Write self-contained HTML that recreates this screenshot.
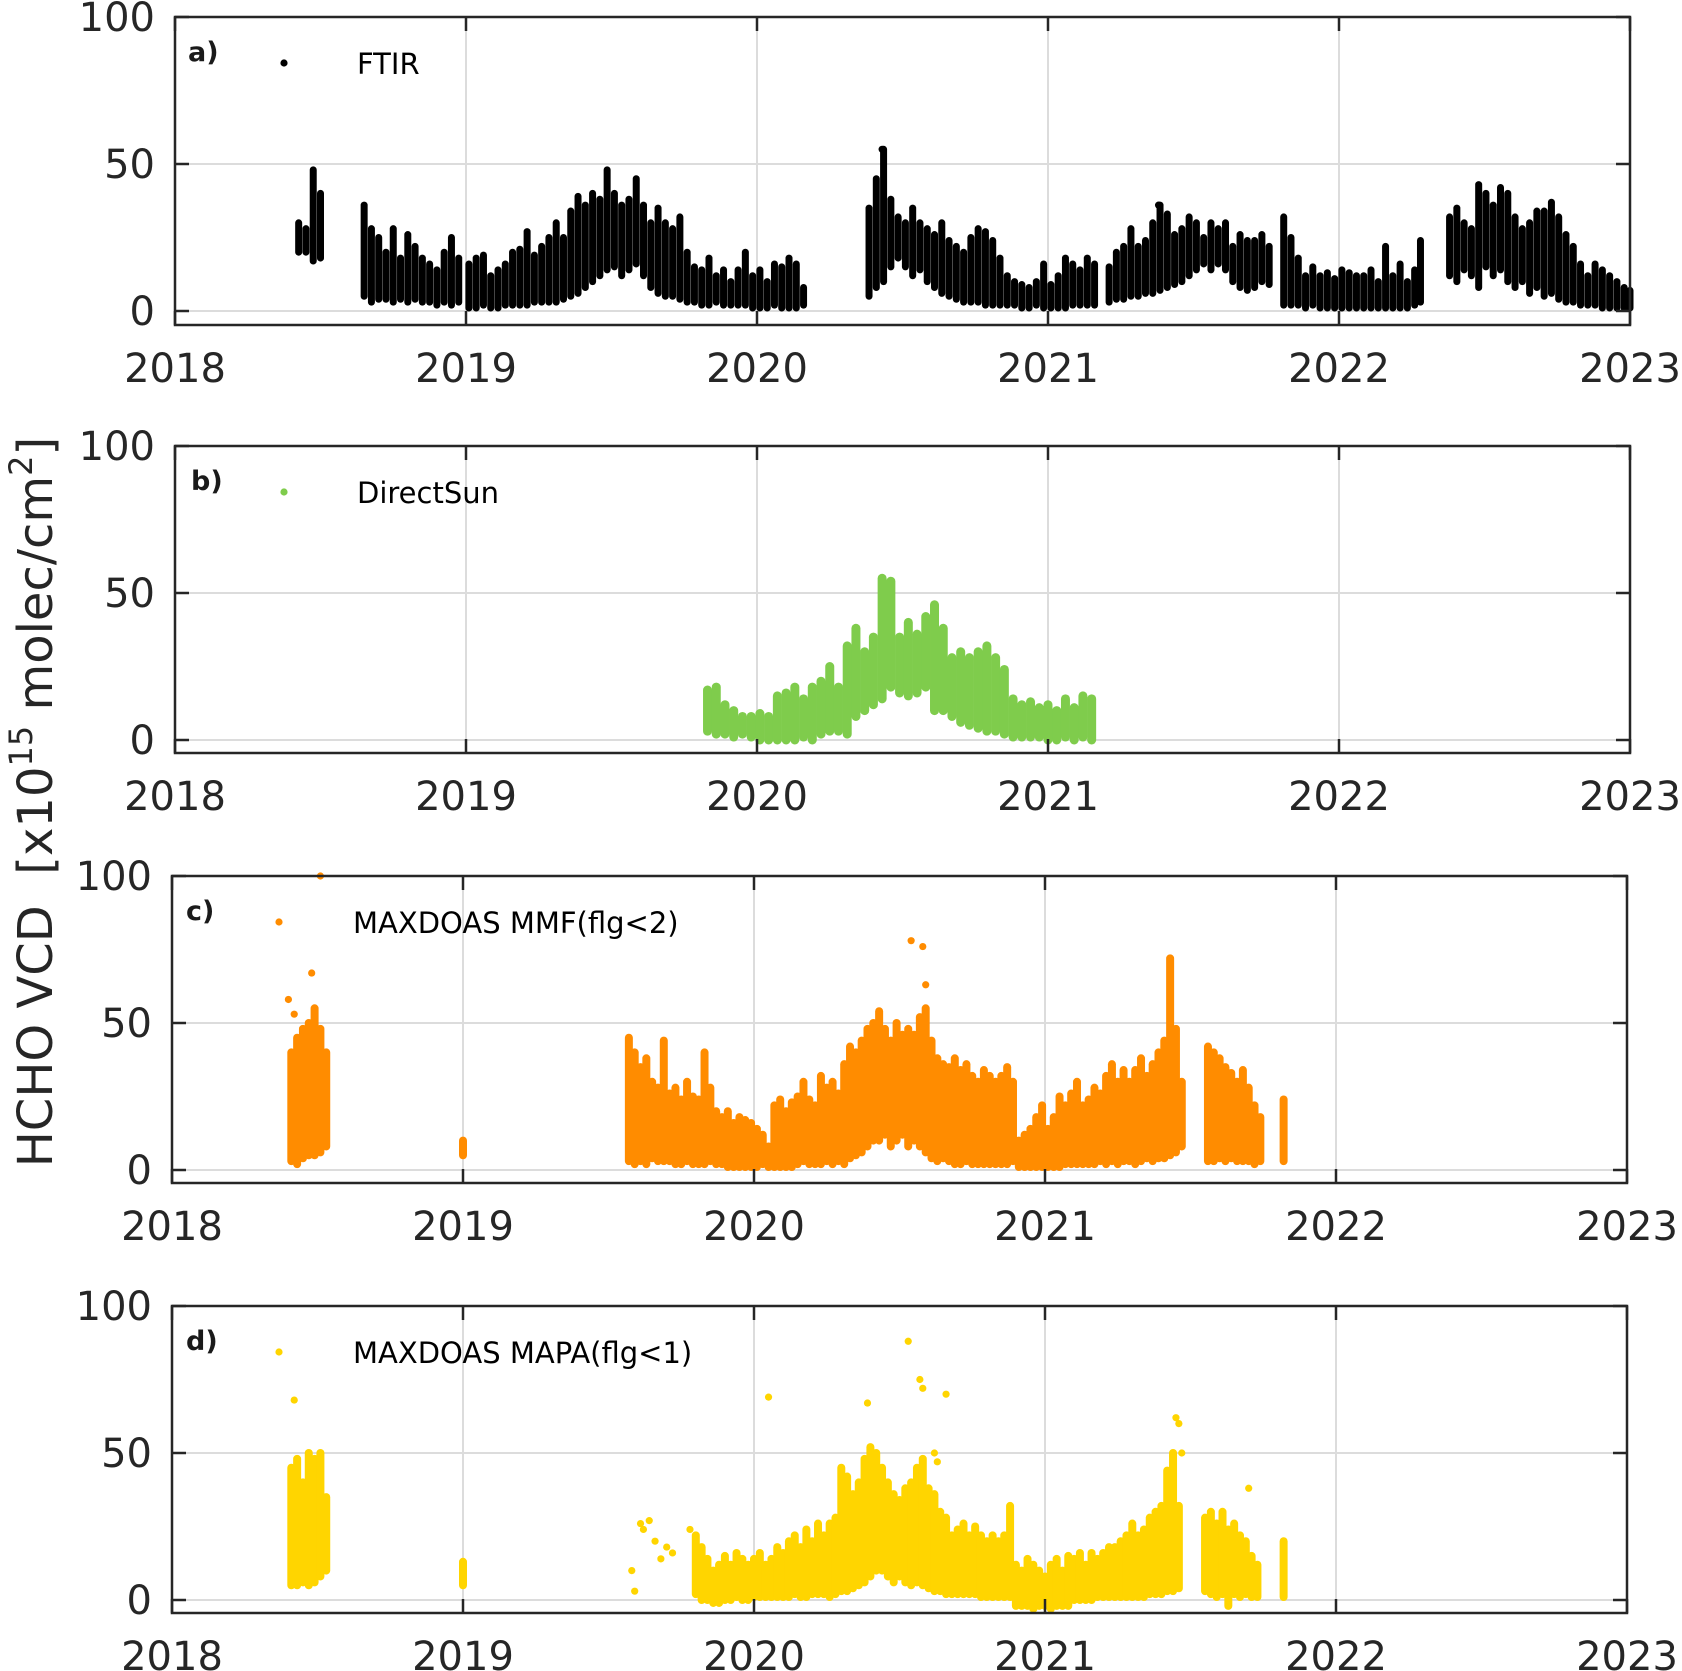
<!DOCTYPE html>
<html><head><meta charset="utf-8"><style>
html,body{margin:0;padding:0;background:#fff;}
svg{display:block;font-family:"DejaVu Sans","Liberation Sans",sans-serif;}
</style></head><body>
<svg id="fig" width="1682" height="1671" viewBox="0 0 1682 1671" xmlns="http://www.w3.org/2000/svg">
<text transform="translate(52,802) rotate(-90)" text-anchor="middle" font-size="48" fill="#262626" xml:space="preserve">HCHO VCD  [x10<tspan font-size="32" dy="-20">15</tspan><tspan dy="20"> molec/cm</tspan><tspan font-size="32" dy="-20">2</tspan><tspan dy="20">]</tspan></text>
</svg>
<script>
// ---------- Panel a: FTIR ----------
const ftirT=[2018.425,2018.45,2018.475,2018.5,2018.65,2018.675,2018.70,2018.725,2018.75,2018.775,2018.80,2018.825,2018.85,2018.875,2018.90,2018.925,2018.95,2018.975,2019.01,2019.035,2019.06,2019.085,2019.11,2019.135,2019.16,2019.185,2019.21,2019.235,2019.26,2019.285,2019.31,2019.335,2019.36,2019.385,2019.41,2019.435,2019.46,2019.485,2019.51,2019.535,2019.56,2019.585,2019.61,2019.635,2019.66,2019.685,2019.71,2019.735,2019.76,2019.785,2019.81,2019.835,2019.86,2019.885,2019.91,2019.935,2019.96,2019.985,2020.01,2020.035,2020.06,2020.085,2020.11,2020.135,2020.16,2020.385,2020.41,2020.435,2020.46,2020.485,2020.51,2020.535,2020.56,2020.585,2020.61,2020.635,2020.66,2020.685,2020.71,2020.735,2020.76,2020.785,2020.81,2020.835,2020.86,2020.885,2020.91,2020.935,2020.96,2020.985,2021.01,2021.035,2021.06,2021.085,2021.11,2021.135,2021.16,2021.21,2021.235,2021.26,2021.285,2021.31,2021.335,2021.36,2021.385,2021.41,2021.435,2021.46,2021.485,2021.51,2021.535,2021.56,2021.585,2021.61,2021.635,2021.66,2021.685,2021.71,2021.735,2021.76,2021.81,2021.835,2021.86,2021.885,2021.91,2021.935,2021.96,2021.985,2022.01,2022.035,2022.06,2022.085,2022.11,2022.135,2022.16,2022.185,2022.21,2022.235,2022.26,2022.28,2022.38,2022.405,2022.43,2022.455,2022.48,2022.505,2022.53,2022.555,2022.58,2022.605,2022.63,2022.655,2022.68,2022.705,2022.73,2022.755,2022.78,2022.805,2022.83,2022.855,2022.88,2022.905,2022.93,2022.955,2022.98,2023.0];
const ftirLo=[20,20,17,18,5,3,4,4,3,4,3,4,3,3,2,3,2,3,1,1,2,1,1,2,2,2,2,3,3,3,3,4,5,6,8,10,12,14,15,12,14,16,12,8,6,5,5,4,3,3,2,2,3,2,2,2,2,1,1,1,2,1,1,1,2,5,8,10,15,18,15,12,14,10,8,6,5,4,3,3,3,2,2,2,2,2,1,1,2,1,1,1,1,2,2,2,2,3,4,4,5,5,6,6,7,8,9,10,12,14,16,14,16,14,10,8,7,8,10,9,2,2,2,1,2,1,1,1,1,1,1,1,1,1,1,1,1,1,2,3,12,10,14,12,8,15,12,14,10,8,10,6,8,5,6,4,3,3,2,2,2,1,1,1,1,1];
const ftirHi=[30,28,48,40,36,28,25,20,28,18,26,22,18,16,14,20,25,18,16,18,19,12,14,16,20,21,27,19,22,25,30,25,34,39,36,40,38,48,40,36,38,45,36,30,35,30,28,32,20,15,14,18,12,14,10,14,20,12,14,10,16,15,18,16,8,35,45,55,38,32,30,35,30,28,26,30,24,22,20,25,28,27,24,18,12,10,9,8,10,16,9,12,18,16,14,18,16,15,20,22,28,22,24,30,36,33,26,28,32,30,25,30,28,30,22,26,24,24,26,22,32,25,18,12,15,12,13,11,14,13,12,12,14,10,22,12,16,10,14,24,32,35,30,28,43,40,36,42,40,32,28,30,34,34,37,32,26,22,16,12,16,14,12,10,8,7];
const ftirOutT=[2020.43,2021.38];
const ftirOutV=[55,36];

// ---------- Panel b: DirectSun ----------
const dsT=[2019.83,2019.86,2019.89,2019.92,2019.95,2019.98,2020.01,2020.04,2020.07,2020.10,2020.13,2020.16,2020.19,2020.22,2020.25,2020.28,2020.31,2020.34,2020.37,2020.40,2020.43,2020.46,2020.49,2020.52,2020.55,2020.58,2020.61,2020.64,2020.67,2020.70,2020.73,2020.76,2020.79,2020.82,2020.85,2020.88,2020.91,2020.94,2020.97,2021.00,2021.03,2021.06,2021.09,2021.12,2021.15];
const dsLo=[3,2,2,1,2,1,0,0,0,0,0,1,0,2,3,3,2,8,10,12,14,18,16,15,16,18,10,10,8,6,5,4,3,3,2,1,1,1,1,0,0,1,0,1,0];
const dsHi=[17,18,12,10,8,8,9,8,15,16,18,14,18,20,25,18,32,38,30,35,55,54,35,40,36,42,46,38,28,30,28,30,32,28,24,14,12,13,11,12,10,14,11,15,14];

// ---------- Panel c: MAXDOAS MMF ----------
const mmfT=[2018.41,2018.43,2018.45,2018.47,2018.49,2018.51,2018.53,2019.0,2019.57,2019.59,2019.61,2019.63,2019.65,2019.67,2019.69,2019.71,2019.73,2019.75,2019.77,2019.79,2019.81,2019.83,2019.85,2019.87,2019.89,2019.91,2019.93,2019.95,2019.97,2019.99,2020.01,2020.03,2020.05,2020.07,2020.09,2020.11,2020.13,2020.15,2020.17,2020.19,2020.21,2020.23,2020.25,2020.27,2020.29,2020.31,2020.33,2020.35,2020.37,2020.39,2020.41,2020.43,2020.45,2020.47,2020.49,2020.51,2020.53,2020.55,2020.57,2020.59,2020.61,2020.63,2020.65,2020.67,2020.69,2020.71,2020.73,2020.75,2020.77,2020.79,2020.81,2020.83,2020.85,2020.87,2020.89,2020.91,2020.93,2020.95,2020.97,2020.99,2021.01,2021.03,2021.05,2021.07,2021.09,2021.11,2021.13,2021.15,2021.17,2021.19,2021.21,2021.23,2021.25,2021.27,2021.29,2021.31,2021.33,2021.35,2021.37,2021.39,2021.41,2021.43,2021.45,2021.47,2021.56,2021.58,2021.60,2021.62,2021.64,2021.66,2021.68,2021.70,2021.72,2021.74,2021.82];
const mmfLo=[3,2,4,5,5,6,8,5,3,2,3,2,4,3,3,3,2,2,3,2,2,2,3,2,2,1,1,1,1,1,1,2,1,1,1,1,1,2,3,2,2,2,3,2,3,2,4,5,6,8,10,10,12,8,10,12,8,10,8,6,4,3,4,3,2,2,3,2,2,2,2,2,2,2,3,1,1,1,1,1,1,1,1,2,2,2,2,2,2,3,2,3,2,3,3,2,3,4,3,4,4,5,6,8,3,3,4,3,4,3,3,3,2,3,3];
const mmfHi=[40,45,48,50,55,48,40,10,45,40,35,38,30,28,44,26,28,24,30,25,24,40,28,20,18,20,16,18,17,16,14,12,8,22,24,20,23,25,30,24,22,32,28,30,26,36,42,40,44,48,50,54,48,44,50,46,48,46,52,55,44,38,36,35,38,34,36,32,30,34,32,30,32,35,30,10,12,14,18,22,14,18,25,22,26,30,22,24,28,26,32,36,30,34,30,34,38,32,36,40,44,72,48,30,42,40,38,35,33,30,34,28,22,18,24];
const mmfOutT=[2018.40,2018.42,2018.48,2018.51,2020.54,2020.58,2020.59,2021.43,2021.43];
const mmfOutV=[58,53,67,100,78,76,63,68,64];

// ---------- Panel d: MAXDOAS MAPA ----------
const mapaT=[2018.41,2018.43,2018.45,2018.47,2018.49,2018.51,2018.53,2019.0,2019.80,2019.82,2019.84,2019.86,2019.88,2019.90,2019.92,2019.94,2019.96,2019.98,2020.00,2020.02,2020.04,2020.06,2020.08,2020.10,2020.12,2020.14,2020.16,2020.18,2020.20,2020.22,2020.24,2020.26,2020.28,2020.30,2020.32,2020.34,2020.36,2020.38,2020.40,2020.42,2020.44,2020.46,2020.48,2020.50,2020.52,2020.54,2020.56,2020.58,2020.60,2020.62,2020.64,2020.66,2020.68,2020.70,2020.72,2020.74,2020.76,2020.78,2020.80,2020.82,2020.84,2020.86,2020.88,2020.90,2020.92,2020.94,2020.96,2020.98,2021.00,2021.02,2021.04,2021.06,2021.08,2021.10,2021.12,2021.14,2021.16,2021.18,2021.20,2021.22,2021.24,2021.26,2021.28,2021.30,2021.32,2021.34,2021.36,2021.38,2021.40,2021.42,2021.44,2021.46,2021.55,2021.57,2021.59,2021.61,2021.63,2021.65,2021.67,2021.69,2021.71,2021.73,2021.82];
const mapaLo=[5,5,6,5,6,8,10,5,2,0,0,-1,-1,0,0,1,0,0,1,1,1,1,1,1,1,2,1,1,2,2,2,1,2,3,3,4,5,6,8,10,10,8,6,8,6,5,6,5,4,3,3,2,2,2,2,2,2,1,1,1,1,1,1,-2,-2,-2,-3,-2,-2,-3,-2,-2,-2,0,0,0,0,1,1,1,1,1,1,1,1,1,2,2,2,3,3,4,3,2,1,2,-2,2,1,2,1,1,1];
const mapaHi=[45,48,40,50,48,50,35,13,22,18,14,10,12,15,12,16,14,12,14,16,12,14,18,16,20,22,18,24,20,26,22,26,28,45,42,36,40,48,52,50,45,40,36,34,38,40,45,48,38,36,30,28,22,24,26,22,25,22,20,22,20,22,32,12,10,14,12,10,8,12,14,10,15,14,16,12,16,14,16,18,18,20,22,26,22,24,28,30,32,44,50,32,28,30,26,30,24,26,22,20,15,12,20];
const mapaOutT=[2018.42,2019.58,2019.59,2019.61,2019.62,2019.64,2019.66,2019.68,2019.70,2019.72,2019.78,2020.05,2020.39,2020.53,2020.57,2020.58,2020.66,2020.62,2020.63,2021.45,2021.46,2021.47,2021.70];
const mapaOutV=[68,10,3,26,24,27,20,14,18,16,24,69,67,88,75,72,70,50,47,62,60,50,38];

// ---------- axis tick definitions ----------
const yearTicks=[2018,2019,2020,2021,2022,2023];
const valueTicks=[0,50,100];

const NS="http://www.w3.org/2000/svg";
const svg=document.getElementById('fig');
function el(tag,attrs,parent){const e=document.createElementNS(NS,tag);for(const k in attrs)e.setAttribute(k,attrs[k]);(parent||svg).appendChild(e);return e;}

const panels=[
 {id:'a',label:'a)',name:'FTIR',color:'#000000',left:175,top:17,y0:311,bottom:325,right:1630,dotX:284,textX:357,lblX:188,T:ftirT,L:ftirLo,H:ftirHi,OT:ftirOutT,OV:ftirOutV,w:7},
 {id:'b',label:'b)',name:'DirectSun',color:'#7fcc4c',left:175,top:446,y0:740,bottom:753,right:1630,dotX:284,textX:357,lblX:191,T:dsT,L:dsLo,H:dsHi,OT:[],OV:[],w:9},
 {id:'c',label:'c)',name:'MAXDOAS MMF(flg<2)',color:'#ff8c00',left:172,top:876,y0:1170,bottom:1183,right:1627,dotX:279,textX:353,lblX:186,T:mmfT,L:mmfLo,H:mmfHi,OT:mmfOutT,OV:mmfOutV,w:8},
 {id:'d',label:'d)',name:'MAXDOAS MAPA(flg<1)',color:'#ffd500',left:172,top:1306,y0:1600,bottom:1613,right:1627,dotX:279,textX:353,lblX:186,T:mapaT,L:mapaLo,H:mapaHi,OT:mapaOutT,OV:mapaOutV,w:8}
];

panels.forEach(p=>{
  const g=el('g',{});
  
  
  const xs=t=>p.left+(t-2018)*(p.right-p.left)/5;
  const ys=v=>p.y0-v*(p.y0-p.top)/100;
  yearTicks.forEach(t=>{const l=el('line',{x1:xs(t),x2:xs(t),y1:p.top,y2:p.bottom,stroke:'#dcdcdc','stroke-width':2},g);
    
    });
  valueTicks.forEach(v=>{const l=el('line',{x1:p.left,x2:p.right,y1:ys(v),y2:ys(v),stroke:'#dcdcdc','stroke-width':2},g);
    
    });
  for(let i=0;i<p.T.length;i++){
    const m=el('line',{x1:xs(p.T[i]),x2:xs(p.T[i]),y1:ys(p.L[i]),y2:ys(p.H[i]),stroke:p.color,'stroke-width':p.w,'stroke-linecap':'round'},g);
    
    
  }
  for(let i=0;i<p.OT.length;i++){
    const c=el('circle',{cx:xs(p.OT[i]),cy:ys(p.OV[i]),r:3.6,fill:p.color},g);
    
    
  }
  const fr=el('rect',{x:p.left,y:p.top,width:p.right-p.left,height:p.bottom-p.top,fill:'none',stroke:'#262626','stroke-width':2.5},g);
  
  
  valueTicks.forEach(v=>{
    el('line',{x1:p.left,x2:p.left+14,y1:ys(v),y2:ys(v),stroke:'#262626','stroke-width':2.5},g);
    el('line',{x1:p.right-14,x2:p.right,y1:ys(v),y2:ys(v),stroke:'#262626','stroke-width':2.5},g);
    const tl=el('text',{x:p.left-20,y:ys(v)+14,'text-anchor':'end','font-size':40,fill:'#262626'},g);
    tl.textContent=v;
    
    
  });
  yearTicks.forEach(t=>{
    el('line',{x1:xs(t),x2:xs(t),y1:p.bottom-14,y2:p.bottom,stroke:'#262626','stroke-width':2.5},g);
    el('line',{x1:xs(t),x2:xs(t),y1:p.top,y2:p.top+14,stroke:'#262626','stroke-width':2.5},g);
    const tl=el('text',{x:xs(t),y:p.bottom+57,'text-anchor':'middle','font-size':40,fill:'#262626'},g);
    tl.textContent=t;
    
    
  });
  const pl=el('text',{x:p.lblX,y:p.top+44,'font-size':27,'font-weight':'bold',fill:'#1a1a1a'},g);
  pl.textContent=p.label;
  
  
  const ld=el('circle',{cx:p.dotX,cy:p.top+46,r:3.6,fill:p.color},g);
  
  
  const lt=el('text',{x:p.textX,y:p.top+57,'font-size':29,fill:'#000'},g);
  lt.textContent=p.name;
  
  
});
</script>
</body></html>
